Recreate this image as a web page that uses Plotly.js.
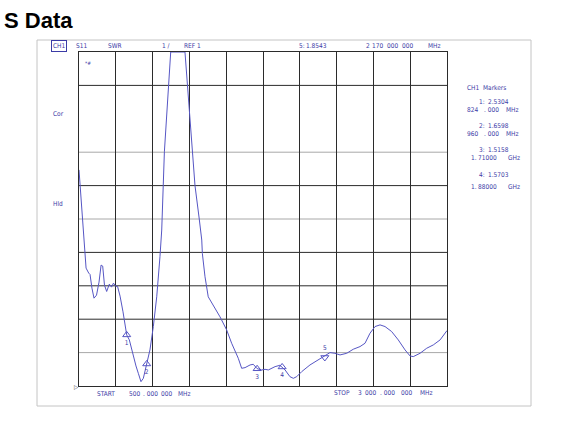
<!DOCTYPE html>
<html><head><meta charset="utf-8">
<script src="https://cdn.plot.ly/plotly-3.0.1.min.js"></script>
<style>html,body{margin:0;padding:0;background:#fff;}#chart{width:563px;height:431px;}</style>
</head><body><div id="chart"></div>
<script>
// ---- data ----
const freqMHz = [500,520,536,548,566,575,588,602,619,636,650,661,673,688,706,721,734,748,762,779,
  799,813,824,842,869,887,903,921,937,960,982,1005,1028,1050,1062,1080,1098,1123,1220,1254,
  1288,1317,1334,1338,1356,1378,1412,1458,1503,1537,1582,1605,1628,1662,1684,1710,1741,1764,1786,1809,
  1832,1865,1880,1900,1933,1956,1979,2013,2069,2126,2170,2205,2239,2273,2319,2363,2409,2443,2477,2511,
  2545,2579,2624,2669,2715,2749,2771,2817,2862,2907,2953,2993,3000];
const swr = [7.47,6.24,5.04,4.53,4.38,4.34,3.93,3.63,3.72,4.11,4.62,4.59,4.02,3.83,4.05,3.96,4.08,3.99,3.98,3.69,
  3.22,2.74,2.53,2.38,1.88,1.60,1.38,1.13,1.23,1.66,2.08,2.78,3.67,4.87,5.67,8.01,9.26,11,11,9.02,
  7.00,6.00,5.37,4.97,4.27,3.67,3.43,3.07,2.68,2.28,1.83,1.53,1.55,1.63,1.65,1.52,1.48,1.50,1.48,1.53,
  1.58,1.62,1.57,1.48,1.28,1.23,1.28,1.43,1.63,1.78,1.90,2.00,1.98,1.93,1.98,2.10,2.18,2.28,2.58,2.78,
  2.83,2.78,2.63,2.38,2.08,1.90,1.88,1.98,2.13,2.23,2.38,2.63,2.66];
const markerNo = ['1','2','3','4','5'];
const markerFreqMHz = [824, 960, 1710, 1880, 2170];
const markerSwr = [2.5304, 1.6598, 1.5158, 1.5703, 1.8543];
const startMHz = 500, stopMHz = 3000;
const refSwr = 1, perDiv = 1, divisions = 10;
const gridDark = [3, 4, 5, 7, 10];
const gridGray = [2, 6, 8];

// ---- styling ----
const TRACE = '#5656c4', TXT = '#3b3ba6', DARK = '#2b2b2b', GRAY = '#a8a8a8';
const FONT = 'DejaVu Sans Condensed, Liberation Sans Narrow, Liberation Sans, sans-serif';
const FS = 6.5;
const L = 79, T = 52, W = 368, H = 334;
function px(x, y) { return { x: (x - L) / W, y: (T + H - y) / H }; }
const ann = [];
function label(text, x, y, opts) {
  const p = px(x, y);
  ann.push(Object.assign({ xref: 'paper', yref: 'paper', x: p.x, y: p.y, text: text, showarrow: false,
    xanchor: 'left', yanchor: 'middle', borderpad: 0, font: { family: FONT, size: FS, color: TXT } }, opts || {}));
}
function pieces(list, y) { list.forEach(([t, x]) => label(t, x, y)); }

// header
label('CH1', 51, 46, { bordercolor: TXT, borderwidth: 1, borderpad: 1 });
label('S11', 75, 46);
label('SWR', 107, 46);
label(perDiv + ' /', 161, 46);
label('REF ' + refSwr, 183, 46);
pieces([[markerNo[4] + ':', 298], [markerSwr[4].toFixed(4), 305]], 46);
pieces([['2', 365], [String(markerFreqMHz[4] - 2000), 370.5], ['000', 386], ['000', 400.5], ['MHz', 427]], 46);
label('Cor', 52, 114);
label('Hld', 52, 203.5);
label('*#', 84, 62.5, { font: { family: FONT, size: 5, color: TXT } });
label('▷', 73, 386, { font: { family: FONT, size: 6, color: DARK } });
// footer
pieces([['START', 96], [String(startMHz), 127.5], ['. 000', 141.5], ['000', 160], ['MHz', 176.5]], 393.5);
pieces([['STOP', 332.5], [String(stopMHz / 1000), 356.5], ['000', 363.5], ['. 000', 378.5], ['000', 400], ['MHz', 418.5]], 392.5);
// marker panel
pieces([['CH1', 466], ['Markers', 481.5]], 88);
const rowsY = [[102, 110], [126, 134], [150, 158], [175, 187]];
for (let i = 0; i < 4; i++) {
  pieces([[markerNo[i] + ':', 478], [markerSwr[i].toFixed(4), 487]], rowsY[i][0]);
  const f = markerFreqMHz[i];
  if (f < 1000) pieces([[String(f), 466], ['. 000', 482.5], ['MHz', 505]], rowsY[i][1]);
  else pieces([['1.', 470], [(f / 1000).toFixed(5).slice(2), 477], ['GHz', 507]], rowsY[i][1]);
}

// shapes: outer frame + horizontal graticule
const shapes = [];
const f0 = px(37, 40), f1 = px(531, 406);
shapes.push({ type: 'rect', xref: 'paper', yref: 'paper', x0: f0.x, y0: f0.y, x1: f1.x, y1: f1.y,
  line: { color: '#c4c4c4', width: 1 }, layer: 'below' });
gridDark.forEach(v => shapes.push({ type: 'line', xref: 'paper', yref: 'y', x0: 0, x1: 1, y0: v, y1: v,
  line: { color: DARK, width: 1 }, layer: 'below' }));
gridGray.forEach(v => shapes.push({ type: 'line', xref: 'paper', yref: 'y', x0: 0, x1: 1, y0: v, y1: v,
  line: { color: GRAY, width: 1 }, layer: 'below' }));

const traces = [
  { x: freqMHz, y: swr, type: 'scatter', mode: 'lines', line: { color: TRACE, width: 1 }, hoverinfo: 'skip' },
  { x: markerFreqMHz, y: markerSwr, type: 'scatter', mode: 'markers+text', text: markerNo,
    textposition: ['bottom center', 'bottom center', 'bottom center', 'bottom center', 'top center'],
    textfont: { family: FONT, size: FS, color: TXT }, cliponaxis: false,
    marker: { symbol: ['triangle-up-open', 'triangle-up-open', 'triangle-up-open', 'triangle-up-open', 'triangle-down-open'],
      size: 7, color: TRACE, line: { color: TRACE, width: 1 } }, hoverinfo: 'skip' }
];

const layout = {
  width: 563, height: 431,
  margin: { l: L, r: 563 - L - W, t: T, b: 431 - T - H, pad: 0 },
  paper_bgcolor: '#ffffff', plot_bgcolor: '#ffffff',
  showlegend: false,
  title: { text: 'S Data', x: 4 / 563, xanchor: 'left', xref: 'container', yref: 'container',
    y: 1 - 20 / 431, yanchor: 'middle', font: { family: 'Liberation Sans, Arial, sans-serif', size: 22, weight: 'bold', color: '#000' } },
  xaxis: { range: [startMHz, stopMHz], dtick: (stopMHz - startMHz) / divisions, tick0: startMHz,
    showgrid: true, gridcolor: DARK, gridwidth: 1, zeroline: false, showticklabels: false, ticks: '',
    showline: true, mirror: true, linecolor: DARK, linewidth: 1, fixedrange: true },
  yaxis: { range: [refSwr, refSwr + perDiv * divisions], showgrid: false, zeroline: false,
    showticklabels: false, ticks: '', showline: true, mirror: true, linecolor: DARK, linewidth: 1, fixedrange: true },
  shapes: shapes,
  annotations: ann
};
Plotly.newPlot('chart', traces, layout, { staticPlot: true, displayModeBar: false });
</script></body></html>
